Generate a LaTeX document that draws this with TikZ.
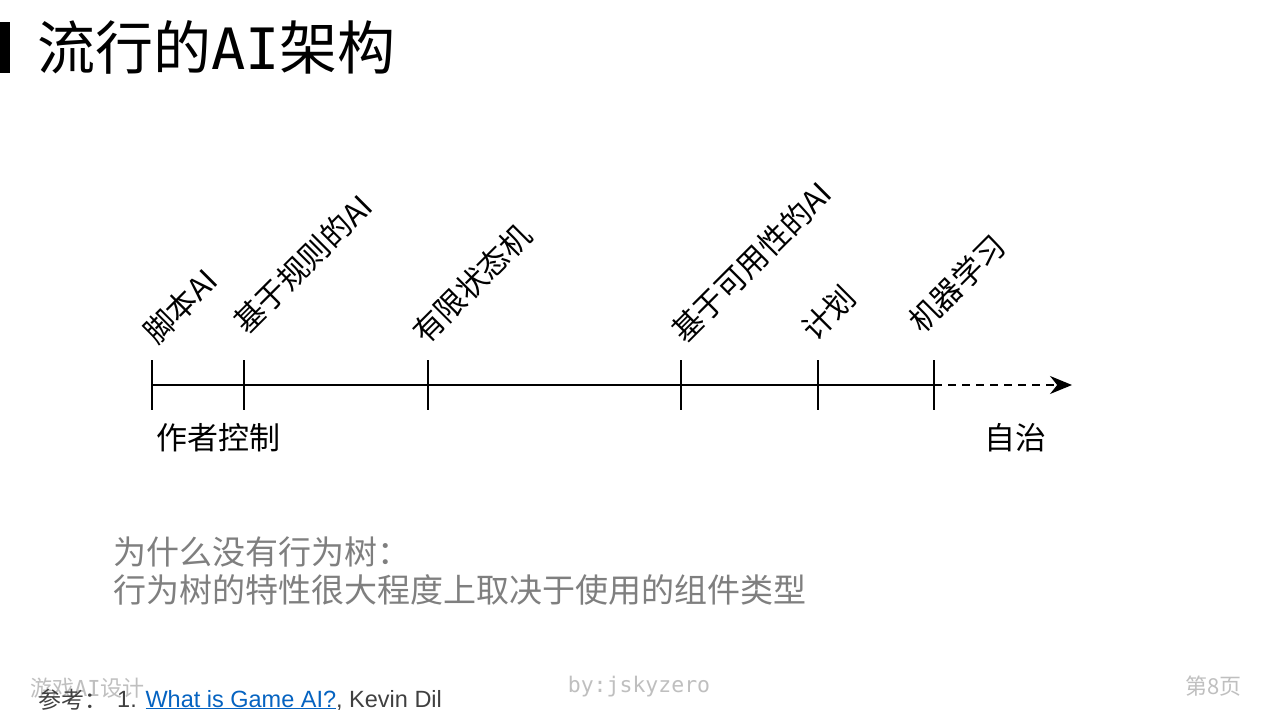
\documentclass[tikz,border=0pt]{standalone}
\usepackage{fontspec}
\setmainfont{Liberation Sans}
\newfontfamily\cjk{Noto Sans CJK SC}
\newfontfamily\monofont{DejaVu Sans Mono}
\usetikzlibrary{arrows.meta}
\definecolor{notegray}{HTML}{7F7F7F}
\definecolor{footgray}{HTML}{BFBFBF}
\definecolor{refgray}{HTML}{404040}
\definecolor{linkblue}{HTML}{0563C1}
\tikzset{
  axisline/.style={line width=2pt},
  tickmark/.style={line width=2pt},
  era/.style={font=\cjk\fontsize{30.5}{30.5}\selectfont, rotate=45, anchor=south west, inner sep=0pt},
  endlabel/.style={font=\cjk\fontsize{31}{31}\selectfont, anchor=west, inner sep=0pt},
  note/.style={font=\cjk\fontsize{33}{33}\selectfont, text=notegray, anchor=west, inner sep=0pt},
  foot/.style={font=\cjk\fontsize{22}{22}\selectfont, text=footgray, inner sep=0pt}
}

\begin{document}
\begin{tikzpicture}[x=1pt,y=-1pt]
			%%%%% START %%%%%
			\useasboundingbox[fill=white] (0,0) rectangle (1280,720);
			
			\fill[black] (0,22) rectangle (10,73);
			\node[anchor=west, inner sep=0pt, font=\cjk\fontsize{58}{58}\selectfont] (title) at (37,47) {流行的{\monofont\fontsize{57}{57}\selectfont AI}架构};
			
			\coordinate (script) at (152,385);
			\coordinate (rule) at (244,385);
			\coordinate (fsm) at (428,385);
			\coordinate (utility) at (681,385);
			\coordinate (plan) at (818,385);
			\coordinate (learn) at (934,385);
			\coordinate (tip) at (1072,385);
			
			\draw[axisline] (script) -- (learn);
			\draw[axisline, dash pattern=on 8pt off 6pt, -{Stealth[length=22pt,width=18pt]}] (learn) -- (tip);
			
			\draw[tickmark] (script) ++(0,-25) -- ++(0,50);
			\draw[tickmark] (rule) ++(0,-25) -- ++(0,50);
			\draw[tickmark] (fsm) ++(0,-25) -- ++(0,50);
			\draw[tickmark] (utility) ++(0,-25) -- ++(0,50);
			\draw[tickmark] (plan) ++(0,-25) -- ++(0,50);
			\draw[tickmark] (learn) ++(0,-25) -- ++(0,50);
			
			\node[era] (scriptlabel) at (159,348) {脚本AI};
			\node[era] (rulelabel) at (249,338) {基于规则的AI};
			\node[era] (fsmlabel) at (428,348) {有限状态机};
			\node[era] (utilitylabel) at (687,347) {基于可用性的AI};
			\node[era] (planlabel) at (817,345) {计划};
			\node[era] (learnlabel) at (924,337) {机器学习};
			
			\node[endlabel] (authored) at (156,438) {作者控制};
			\node[endlabel] (autonomous) at (984,438) {自治};
			
			\node[note] (whynot) at (113,552) {为什么没有行为树：};
			\node[note] (because) at (113,590) {行为树的特性很大程度上取决于使用的组件类型};
			
			\node[foot, anchor=west] (course) at (30,688) {游戏{\monofont\fontsize{22}{22}\selectfont AI}设计};
			\node[foot, font=\monofont\fontsize{21.5}{21.5}\selectfont] (byline) at (639,687) {by:jskyzero};
			\node[foot, anchor=east] (page) at (1242,686) {第8页};
			
			\node[anchor=west, inner sep=0pt, text=refgray, font=\cjk\fontsize{23}{23}\selectfont] (reflabel) at (38,700) {参考：};
			\node[anchor=west, inner sep=0pt, text=refgray, font=\fontsize{23.5}{23.5}\selectfont] (reftext) at (117,700) {1. \textcolor{linkblue}{\underline{What is Game AI?}}, Kevin Dil};
			
			%%%%% END %%%%%
\end{tikzpicture}
\end{document}
